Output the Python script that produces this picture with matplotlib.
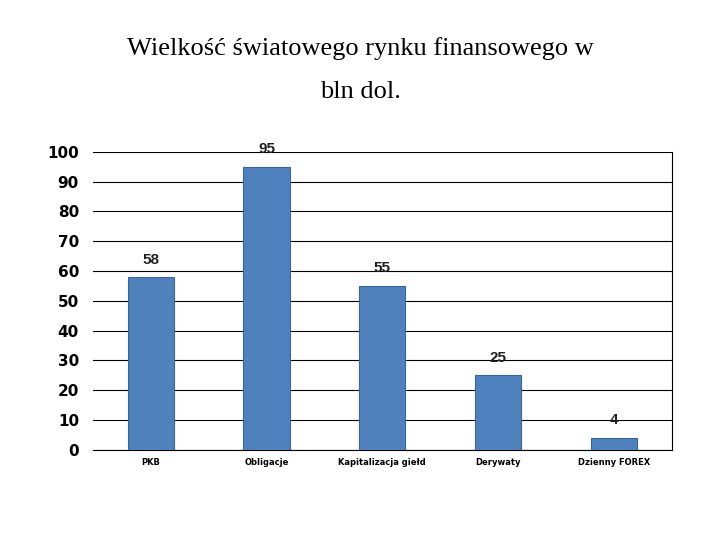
import matplotlib
matplotlib.use("Agg")
import matplotlib.pyplot as plt

categories = ["PKB", "Obligacje", "Kapitalizacja giełd", "Derywaty", "Dzienny FOREX"]
values = [58, 95, 55, 25, 4]

fig = plt.figure(figsize=(7.2, 5.4), dpi=100)
ax = fig.add_axes([0.129, 0.167, 0.804, 0.552])
x = range(len(categories))
ax.bar(x, values, width=0.4, color="#4F81BD", edgecolor="#3a6699", linewidth=0.8, zorder=3)
for i, v in zip(x, values):
    ax.text(i, v + 3.5, str(v), ha="center", va="bottom", fontsize=11, fontweight="bold",
            fontfamily="Liberation Sans", color="#222222")
ax.set_xlim(-0.5, len(categories) - 0.5)
ax.set_ylim(0, 100)
ax.set_yticks(range(0, 101, 10))
ax.yaxis.grid(True, color="black", linewidth=0.8, zorder=0)
ax.set_xticks(list(x))
ax.set_xticklabels(categories, fontsize=6, fontweight="bold")
for t in ax.get_yticklabels():
    t.set_fontsize(11)
    t.set_fontweight("bold")
ax.tick_params(axis="x", length=0, pad=6)
ax.tick_params(axis="y", length=0, pad=10)
for s in ["top", "left"]:
    ax.spines[s].set_visible(False)
ax.spines["right"].set_color("black")
ax.spines["bottom"].set_color("black")
fig.text(0.5, 0.91, "Wielkość światowego rynku finansowego w", ha="center", va="center",
         fontsize=19, fontfamily="Liberation Serif")
fig.text(0.5, 0.83, "bln dol.", ha="center", va="center", fontsize=19, fontfamily="Liberation Serif")
fig.savefig("out.png", dpi=100)
